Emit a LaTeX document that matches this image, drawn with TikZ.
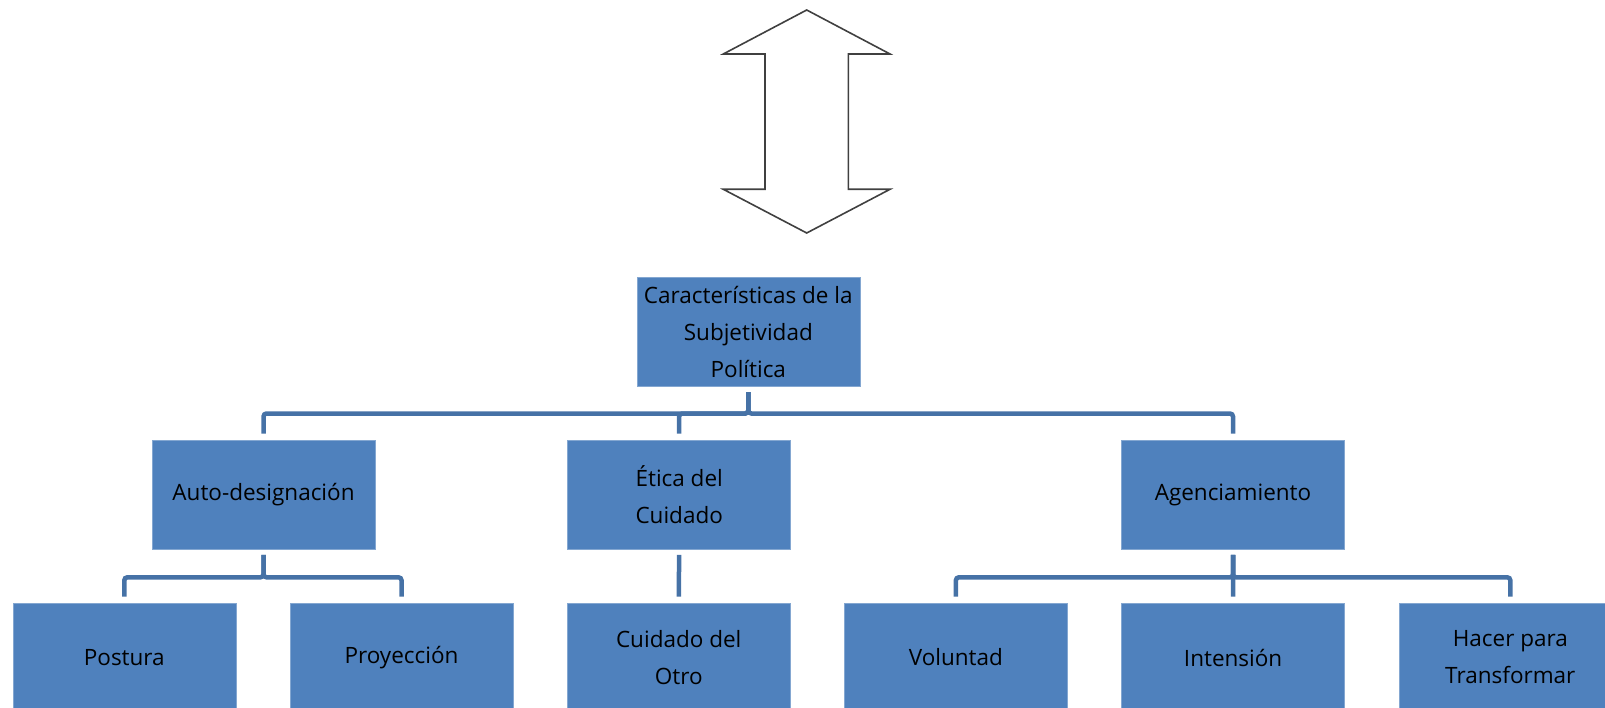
\documentclass[tikz,border=0pt]{standalone}
\usepackage{fontspec}
\setmainfont{Open Sans}

\definecolor{boxblue}{HTML}{4F81BD}
\definecolor{lineblue}{HTML}{4672A6}

\begin{document}
\begin{tikzpicture}[x=1pt, y=-1pt,
  every box/.style={fill=boxblue, draw=boxblue!70!white, line width=0.6pt,
    minimum width=223pt, minimum height=109pt,
    inner sep=0pt, align=center, font=\fontsize{22.5}{37}\selectfont},
  connector/.style={draw=lineblue, line width=4.5pt, rounded corners=3pt,
    shorten <=5.5pt, shorten >=6pt},
  bigarrow/.style={draw=black!75, line width=1.6pt}]

\useasboundingbox (0,0) rectangle (1605,708);
\clip (0,0) rectangle (1605,708);

% define double arrow
\draw [bigarrow] (806.7,10) -- (890,54) -- (848.3,54) -- (848.3,189.3)
  -- (890,189.3) -- (806.7,233) -- (723.3,189.3) -- (765,189.3)
  -- (765,54) -- (723.3,54) -- cycle;

% define top box
\node [every box] (top) at (748.3,331.7)
  {Características de la\\Subjetividad\\Política};

% define middle boxes
\foreach \m/\x/\l in {auto/263.5/Auto-designación, etica/679.2/{Ética del\\Cuidado}, agen/1233/Agenciamiento}
  \node [every box] (mid-\m) at (\x,494.5) {\l};

% define bottom boxes
\foreach \l [count=\i] in {Postura, Proyección, {Cuidado del\\Otro}, Voluntad, Intensión, {Hacer para\\Transformar}}
  \node [every box] (leaf-\i) at (124.3+277.2*\i-277.2,657.5) {\l};

% connect top box to middle boxes
\foreach \m in {auto, etica, agen}
  \draw [connector] (top.south) -- ++(0,27) -| (mid-\m.north);

% connect middle boxes to bottom boxes
\foreach \i in {1,2}
  \draw [connector] (mid-auto.south) -- ++(0,28) -| (leaf-\i.north);
\draw [connector] (mid-etica.south) -- (leaf-3.north);
\foreach \i in {4,6}
  \draw [connector] (mid-agen.south) -- ++(0,28) -| (leaf-\i.north);
\draw [connector] (mid-agen.south) -- (leaf-5.north);

\end{tikzpicture}
\end{document}
